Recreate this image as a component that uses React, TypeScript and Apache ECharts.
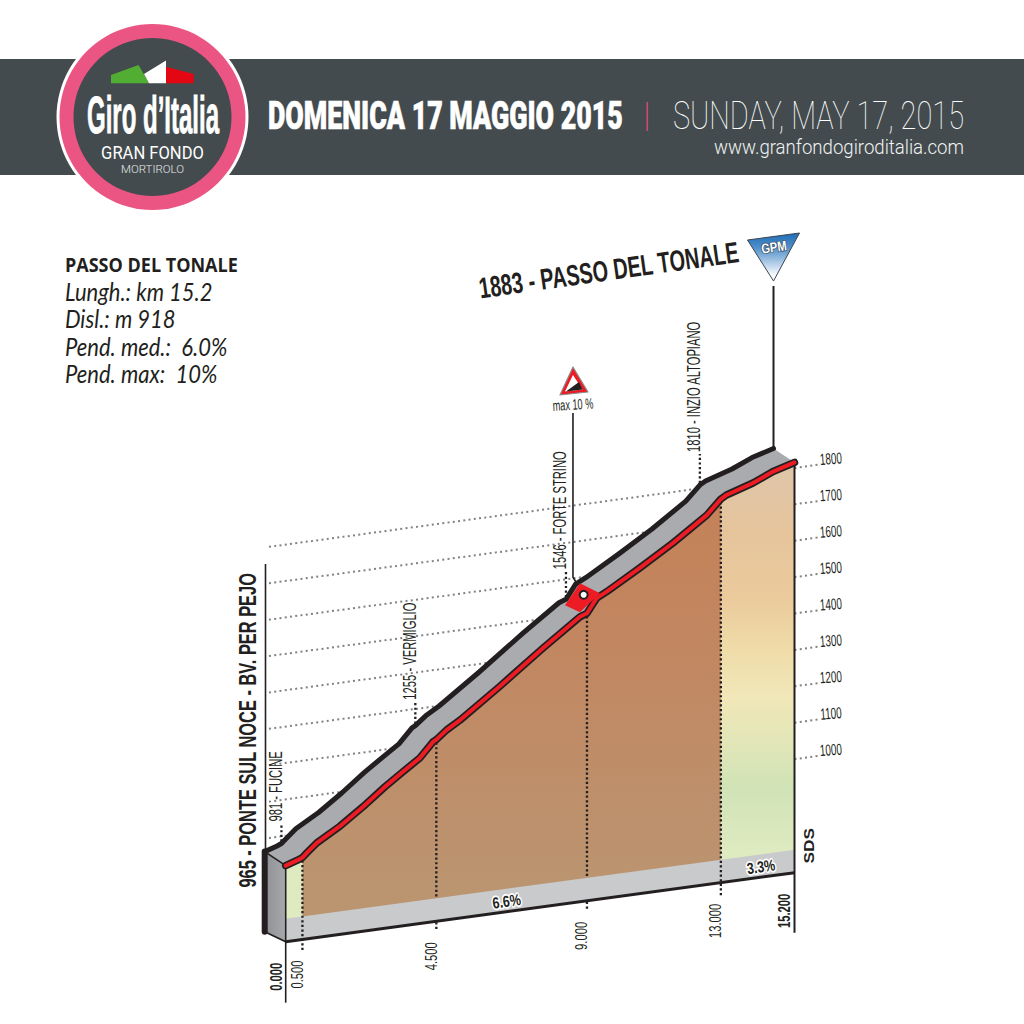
import React, { useEffect, useRef } from "react";
import * as echarts from "echarts";

// ---------- data ----------
const profileKm = [0, 0.37, 0.5, 0.63, 0.93, 1.62, 2.31, 2.97, 3.5, 4.01, 4.4, 4.5, 4.81, 5.21, 6.4, 7.69, 8.79, 9, 9.29, 9.59, 10.58, 11.57, 12.58, 13, 13.17, 13.96, 14.56, 15.2];
const profileElev = [965, 976, 981, 992, 1016, 1053, 1098, 1145, 1179, 1211, 1250, 1255, 1278, 1300, 1378, 1467, 1539, 1546, 1584, 1598, 1651, 1707, 1771, 1810, 1819, 1842, 1866, 1883];
const kmTicks = [0, 0.5, 4.5, 9, 13, 15.2];
const kmTickLabels = ["0.000", "0.500", "4.500", "9.000", "13.000", "15.200"];
const elevTicks = [1000, 1100, 1200, 1300, 1400, 1500, 1600, 1700, 1800];
const landmarkKm = [0.5, 4.5, 9, 13];
const landmarkElev = [981, 1255, 1546, 1810];
const landmarkNames = ["981 - FUCINE", "1255 - VERMIGLIO", "1546 - FORTE STRINO", "1810 - INZIO ALTOPIANO"];
const gradeKm = [6.6, 14.2];
const gradeLabels = ["6.6%", "3.3%"];
const infoTitle = "PASSO DEL TONALE";
const infoLines = ["Lungh.: km 15.2", "Disl.: m 918", "Pend. med.:  6.0%", "Pend. max:  10%"];

// ---------- layout ----------
const NARROW = "'Liberation Sans', sans-serif";
const ELEV_MIN = 756;
const ELEV_MAX = 2000;
const STRIP_TOP = 819;
const SKEW = 4.54; // px the ground rises per km
const DX = -21, DY = -14; // depth of the road
const TICK_RIGHT_SHIFT = 68; // ticks sit above their nominal value in the picture
const TICK_LEFT_SHIFT = 47;
const STEMS = [18, 22, 26, 29];
const INK = "#231f20";

const txt = (text: string, x: number, y: number, size: number, o: any = {}) => ({
  type: "text",
  x,
  y,
  rotation: ((o.rot || 0) * Math.PI) / 180,
  scaleX: o.sx || 1,
  scaleY: o.sy || 1,
  z2: 50,
  style: {
    text,
    x: 0,
    y: 0,
    fill: o.fill || INK,
    fontSize: size,
    fontFamily: o.family || NARROW,
    fontWeight: o.weight || "normal",
    fontStyle: o.style || "normal",
    align: o.align || "left",
    verticalAlign: "middle",
    stroke: o.stroke,
    lineWidth: o.lw || 0,
  },
});

const poly = (points: number[][], style: any, closed = true) => ({
  type: closed ? "polygon" : "polyline",
  shape: { points },
  style: closed ? style : { fill: "none", ...style },
});

const seg = (a: number[], b: number[], style: any) => ({
  type: "line",
  shape: { x1: a[0], y1: a[1], x2: b[0], y2: b[1] },
  style,
});

function grad(stops: [number, string][]) {
  return new echarts.graphic.LinearGradient(
    0, 463, 0, 880,
    stops.map(([offset, color]) => ({ offset, color })),
    true
  );
}

const OUTER_FILL = () =>
  grad([
    [0.02, "#dfc5a8"],
    [0.16, "#e5c49c"],
    [0.33, "#ebcb9c"],
    [0.45, "#efdca9"],
    [0.56, "#f1e7b8"],
    [0.66, "#e3e6b8"],
    [0.78, "#d0e3b6"],
    [0.93, "#deeac0"],
  ]);
const INNER_FILL = () =>
  grad([
    [0, "#c48056"],
    [0.4, "#c28660"],
    [1, "#bb9470"],
  ]);

function renderProfile(_: any, api: any) {
  const pr = (km: number, e: number) => {
    const p = api.coord([km, e]);
    return [p[0], p[1] - km * SKEW];
  };
  const front = profileKm.map((k, i) => pr(k, profileElev[i]));
  const top = front.map((p) => [p[0] + DX, p[1] + DY]);
  const elevAt = (km: number) => {
    let i = profileKm.findIndex((k) => k >= km);
    return profileElev[Math.max(i, 0)];
  };
  const slice = (a: number, b: number) => {
    const idx = profileKm.map((k, i) => i).filter((i) => profileKm[i] >= a && profileKm[i] <= b);
    return idx.map((i) => front[i]);
  };
  const kids: any[] = [];
  const gridStyle = { stroke: "#808285", lineWidth: 2, lineDash: [2, 3.3] };

  // grid lines
  elevTicks.forEach((t) => {
    kids.push(seg(pr(-0.5, t + TICK_LEFT_SHIFT), pr(12.5, t + TICK_LEFT_SHIFT), gridStyle));
    const a = pr(15.2, t + TICK_RIGHT_SHIFT);
    const b = pr(15.9, t + TICK_RIGHT_SHIFT);
    kids.push(seg(a, b, gridStyle));
    kids.push(txt(String(t), b[0] + 13, b[1] - 6, 16, { align: "center", rot: 4, sx: 0.62 }));
  });

  // mountain fills
  const p05 = pr(0.5, ELEV_MIN), p13 = pr(13, ELEV_MIN), p152 = pr(15.2, ELEV_MIN), p0 = pr(0, ELEV_MIN);
  kids.push(poly([...slice(0, 0.5), p05, p0], { fill: OUTER_FILL() }));
  kids.push(poly([...slice(0.5, 13), p13, p05], { fill: INNER_FILL() }));
  kids.push(poly([...slice(13, 15.2), p152, p13], { fill: OUTER_FILL() }));

  // ground strip
  kids.push(poly([pr(0, ELEV_MIN), pr(15.2, ELEV_MIN), pr(15.2, STRIP_TOP), pr(0, STRIP_TOP)], { fill: "#c8cacc" }));

  // km dotted drops + labels
  kmTicks.forEach((k, i) => {
    const g = pr(k, ELEV_MIN);
    const bold = i === 0 || i === kmTicks.length - 1;
    if (!bold) {
      const e = elevAt(k);
      const through = k === 0.5 || k === 13;
      const style = { stroke: INK, lineWidth: 2.3, lineDash: [2.2, 2.4] };
      const st = pr(k, STRIP_TOP);
      kids.push(seg(pr(k, e - 8), through ? [g[0], g[1] + 13] : st, style));
      if (!through) kids.push(seg([g[0], g[1] + 1], [g[0], g[1] + 9], style));
    }
    kids.push(
      txt(kmTickLabels[i], g[0] + (bold ? -10 : -5.5), g[1] + 21, 17, {
        rot: 90,
        align: "right",
        weight: bold ? "bold" : "normal",
        sx: 0.66,
      })
    );
  });

  // grade labels
  gradeKm.forEach((k, i) => {
    const p = pr(k, (ELEV_MIN + STRIP_TOP) / 2);
    kids.push(txt(gradeLabels[i], p[0], p[1] + 1, 16, { align: "center", rot: 7.7, weight: "bold", stroke: "#fff", lw: 3.5, sx: 0.78 }));
  });

  // road surface
  kids.push(poly([...top, ...front.slice().reverse()], { fill: "#a9abae" }));

  // side face
  const f0 = front[0], t0 = top[0], g0 = pr(0, ELEV_MIN);
  const backBottom = [g0[0] + DX, g0[1] - 10];
  kids.push(
    poly([t0, f0, g0, backBottom], {
      fill: new echarts.graphic.LinearGradient(0, 0, 1, 0, [
        { offset: 0, color: "#8f9194" },
        { offset: 1, color: "#a6a8ab" },
      ]),
    })
  );
  kids.push(seg(t0, [t0[0], backBottom[1]], { stroke: INK, lineWidth: 6, lineCap: "round" }));
  kids.push(seg(backBottom, g0, { stroke: INK, lineWidth: 1.8 }));
  kids.push(seg(t0, f0, { stroke: INK, lineWidth: 1.5 }));

  // vertical end lines
  kids.push(seg(f0, [f0[0], g0[1] + 61], { stroke: INK, lineWidth: 1.6 }));
  const gEnd = pr(15.2, ELEV_MIN);
  kids.push(seg(front[front.length - 1], [gEnd[0], gEnd[1] + 60], { stroke: INK, lineWidth: 2 }));
  kids.push(seg(g0, gEnd, { stroke: INK, lineWidth: 3 }));

  // left tall line and start label
  kids.push(seg([t0[0] + 0.8, t0[1]], [t0[0] + 0.8, 564], { stroke: INK, lineWidth: 1.6 }));
  kids.push(txt("965 - PONTE SUL NOCE - BV. PER PEJO", t0[0] - 18, t0[1] + 36, 24.5, { rot: 90, weight: "bold", sx: 0.67 }));

  // landmark stems and names
  landmarkKm.forEach((k, i) => {
    const p = pr(k, landmarkElev[i]);
    const a = [p[0] + DX, p[1] + DY - 2];
    const b = [a[0], a[1] - STEMS[i]];
    kids.push(seg(a, b, { stroke: INK, lineWidth: 2.3, lineDash: [2.2, 2.4] }));
    kids.push(txt(landmarkNames[i], b[0] - 5.5, b[1] - 2, 17.5, { rot: 90, sx: 0.64 }));
  });

  // top edge + red road line
  kids.push(poly(top, { stroke: INK, lineWidth: 5, lineJoin: "round", lineCap: "round" }, false));
  kids.push(poly(front, { stroke: INK, lineWidth: 7.5, lineJoin: "round", lineCap: "round" }, false));
  kids.push(poly(front, { stroke: "#ed1c24", lineWidth: 4, lineJoin: "round", lineCap: "round" }, false));

  // max-gradient marker at km 9
  const m = pr(9, 1546);
  kids.push(
    poly(
      [
        [m[0] - 22, m[1] - 8],
        [m[0] - 7, m[1] - 30],
        [m[0] + 13, m[1] - 20],
        [m[0] - 7, m[1] - 1],
      ],
      { fill: "#ed1c24" }
    )
  );
  kids.push({ type: "circle", shape: { cx: m[0] - 3.3, cy: m[1] - 18.5, r: 4 }, style: { fill: "#fff", stroke: INK, lineWidth: 2 } });
  const mt = [m[0] - 14, m[1] - 36];
  kids.push(poly([[m[0] - 9, m[1] - 28], mt, [mt[0], 413]], { stroke: INK, lineWidth: 1.6 }, false));
  kids.push(txt("max 10 %", mt[0], 405, 15, { align: "center", rot: 3.5, sx: 0.61 }));
  kids.push(poly([[mt[0], 367], [mt[0] - 13, 395], [mt[0] + 15, 392]], { fill: "#ed1c24", stroke: "#8a8c8e", lineWidth: 1.2, lineJoin: "round" }));
  kids.push(poly([[mt[0], 375], [mt[0] - 8, 391.5], [mt[0] + 9.5, 389.5]], { fill: "#fff" }));
  kids.push(poly([[mt[0] + 6, 382], [mt[0] - 7, 391.5], [mt[0] + 9.5, 389.5]], { fill: INK }));

  // summit marker
  const s = front[front.length - 1];
  const st = [s[0] + DX, s[1] + DY];
  kids.push(seg(st, [st[0], 286], { stroke: INK, lineWidth: 2 }));
  kids.push(
    poly([[st[0] - 26, 240], [st[0] + 26, 233], [st[0], 281]], {
      fill: new echarts.graphic.LinearGradient(0, 0, 0, 1, [
        { offset: 0, color: "#1f6cb5" },
        { offset: 0.3, color: "#4f8fca" },
        { offset: 0.85, color: "#f2f6fb" },
        { offset: 1, color: "#ffffff" },
      ]),
      stroke: "#3d4650",
      lineWidth: 1,
      lineJoin: "round",
    })
  );
  kids.push(txt("GPM", st[0] + 0.5, 247.5, 14, { align: "center", rot: 8, weight: "bold", fill: "#fff", stroke: "#33465c", lw: 1.4, sx: 0.8 }));
  kids.push(txt("1883 - PASSO DEL TONALE", 479, 288, 29.5, { rot: 8, weight: "bold", sx: 0.675 }));

  // signature
  kids.push(txt("SDS", gEnd[0] + 14, gEnd[1] - 27, 15, { rot: 90, align: "center", weight: "bold", sx: 1.15 }));

  return { type: "group", children: kids };
}

const headerGraphics = () => {
  const els: any[] = [
    { type: "rect", shape: { x: 0, y: 59, width: 1024, height: 116 }, style: { fill: "#434b4e" } },
    { type: "circle", shape: { cx: 152.5, cy: 117, r: 96 }, style: { fill: "#fff" } },
    { type: "circle", shape: { cx: 152.5, cy: 117, r: 93 }, style: { fill: "#eb5583" } },
    { type: "circle", shape: { cx: 152.5, cy: 117, r: 79 }, style: { fill: "#434b4e" } },
    { type: "polygon", shape: { points: [[111, 83.3], [111, 75], [138.5, 65], [149, 83.3]] }, style: { fill: "#52ae32" } },
    { type: "polygon", shape: { points: [[144, 74], [166, 60.5], [166, 83.3], [149, 83.3]] }, style: { fill: "#fff" } },
    { type: "polygon", shape: { points: [[166, 66.7], [193.7, 74], [193.7, 83.3], [166, 83.3]] }, style: { fill: "#e30613" } },
    txt("Giro d\u2019Italia", 87, 115, 50, { weight: "bold", fill: "#fff", sx: 0.48, sy: 1.02, stroke: "#fff", lw: 0.8 }),
    txt("GRAN FONDO", 152.5, 153, 18, { align: "center", fill: "#fff", family: "Roboto, sans-serif", sx: 0.92 }),
    txt("MORTIROLO", 152.5, 169, 11.5, { align: "center", fill: "#e6e8e8", family: "Roboto, sans-serif", weight: 300, sx: 1 }),
    txt("DOMENICA 17 MAGGIO 2015", 268, 116, 38, { fill: "#fff", family: "Roboto, sans-serif", weight: 900, sx: 0.705, stroke: "#fff", lw: 0.7 }),
    { type: "rect", shape: { x: 646.5, y: 102, width: 1.6, height: 29 }, style: { fill: "#c84c74" } },
    txt("SUNDAY, MAY 17, 2015", 964, 116, 38, { align: "right", fill: "#fff", family: "Roboto, sans-serif", weight: 100, sx: 0.763 }),
    txt("www.granfondogiroditalia.com", 964, 147, 20, { align: "right", fill: "#f2f3f3", family: "Roboto, sans-serif", weight: 300, sx: 0.93 }),
    txt(infoTitle, 65, 264.5, 20, { family: "'Open Sans', sans-serif", weight: "bold", sx: 0.9 }),
  ];
  const ys = [291, 318, 346, 373];
  infoLines.forEach((l, i) => els.push(txt(l, 65, ys[i], 25, { family: "Lato, sans-serif", style: "italic", weight: 400, sx: 0.88 })));
  return els;
};

export default function App() {
  const ref = useRef<HTMLDivElement>(null);
  useEffect(() => {
    if (!ref.current) return;
    const chart = echarts.init(ref.current, undefined, { renderer: "svg" });
    const plotH = (ELEV_MAX - ELEV_MIN) * 0.364;
    chart.setOption({
      animation: false,
      backgroundColor: "#fff",
      grid: { left: 285.7, width: 508.8, top: 941.7 - plotH, height: plotH },
      xAxis: { type: "value", min: 0, max: 15.2, show: false },
      yAxis: { type: "value", min: ELEV_MIN, max: ELEV_MAX, show: false },
      graphic: { elements: headerGraphics() },
      series: [
        {
          type: "custom",
          coordinateSystem: "cartesian2d",
          clip: false,
          silent: true,
          data: [[0, ELEV_MIN]],
          renderItem: renderProfile,
        },
      ],
    });
    return () => chart.dispose();
  }, []);
  return <div ref={ref} style={{ position: "absolute", left: 0, top: 0, width: 1024, height: 1024 }} />;
}
